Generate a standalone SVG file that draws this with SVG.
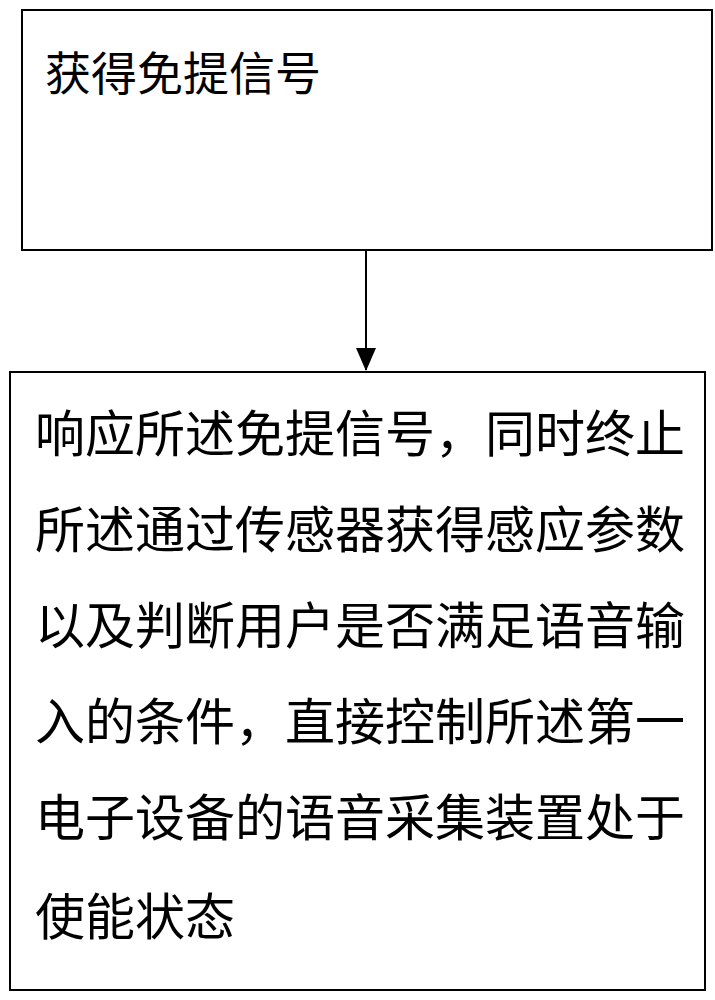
<svg xmlns="http://www.w3.org/2000/svg" width="715" height="1000" viewBox="0 0 715 1000">
<style>
.box{fill:#fff;stroke:#000;stroke-width:2}
.t{font-family:"Noto Sans CJK SC","Liberation Serif",serif;font-size:46px;fill:#000}
.t2{font-family:"Noto Sans CJK SC","Liberation Serif",serif;font-size:50px;fill:#000}
</style>
<rect width="715" height="1000" fill="#fff"/>
<g id="n1"><rect class="box" x="22" y="10" width="690" height="240"/><text class="t" x="45" y="90">获得免提信号</text></g>
<g id="connectors"><line x1="366" y1="250" x2="366" y2="370" stroke="#000" stroke-width="2"/><path d="M356,348 L366,371 L376,348 z" fill="#000"/></g>
<g id="n2"><rect class="box" x="10" y="372" width="695" height="618"/>
<text class="t2" x="35" y="452">响应所述免提信号，同时终止</text>
<text class="t2" x="35" y="548">所述通过传感器获得感应参数</text>
<text class="t2" x="35" y="644">以及判断用户是否满足语音输</text>
<text class="t2" x="35" y="740">入的条件，直接控制所述第一</text>
<text class="t2" x="35" y="836">电子设备的语音采集装置处于</text>
<text class="t2" x="35" y="935">使能状态</text>
</g>
</svg>
